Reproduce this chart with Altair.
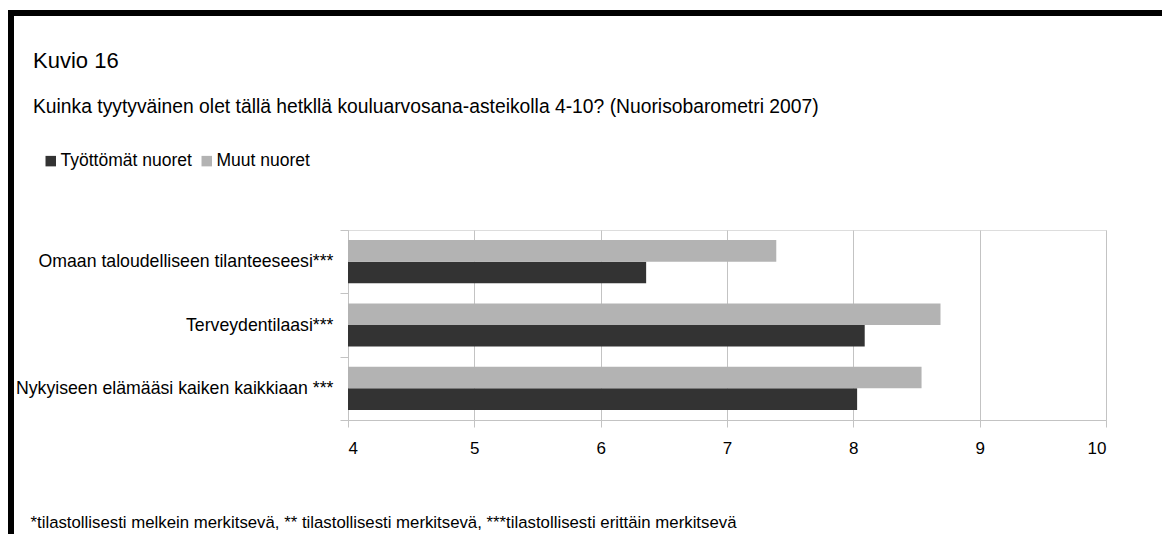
import altair as alt
import pandas as pd

categories = [
    "Omaan taloudelliseen tilanteeseesi***",
    "Terveydentilaasi***",
    "Nykyiseen elämääsi kaiken kaikkiaan ***",
]
series = ["Työttömät nuoret", "Muut nuoret"]
tyottomat = [6.36, 8.09, 8.03]
muut = [7.39, 8.69, 8.54]
x_ticks = [4, 5, 6, 7, 8, 9, 10]

title_text = "Kuvio 16"
subtitle_text = "Kuinka tyytyväinen olet tällä hetkllä kouluarvosana-asteikolla 4-10? (Nuorisobarometri 2007)"
footnote = ("*tilastollisesti melkein merkitsevä, ** tilastollisesti merkitsevä, "
            "***tilastollisesti erittäin merkitsevä")

rows = []
for c, a, b in zip(categories, tyottomat, muut):
    rows.append({"kysymys": c, "ryhma": series[0], "arvo": a})
    rows.append({"kysymys": c, "ryhma": series[1], "arvo": b})
df = pd.DataFrame(rows)

FONT = "Liberation Sans"
GRID = "#c3c3c3"

bars = alt.Chart(df).mark_bar().encode(
    y=alt.Y("kysymys:N", sort=categories,
            scale=alt.Scale(paddingInner=0, paddingOuter=0),
            axis=alt.Axis(title=None, tickBand="extent", tickSize=8, tickColor=GRID,
                          domainColor=GRID, labelFontSize=17.7, labelColor="#000000",
                          labelFont=FONT, labelPadding=7, labelLimit=400, grid=False)),
    yOffset=alt.YOffset("ryhma:N", sort=[series[1], series[0]],
                        scale=alt.Scale(paddingInner=0, paddingOuter=0.47)),
    x=alt.X("arvo:Q",
            scale=alt.Scale(domain=[4, 10], zero=False, nice=False),
            axis=alt.Axis(values=x_ticks, format="d", tickSize=7, tickColor=GRID,
                          domainColor=GRID, gridColor=GRID, grid=True,
                          labelFontSize=17, labelColor="#000000", labelFont=FONT,
                          labelPadding=13,
                          title=footnote, titleFont=FONT, titleFontSize=16.8,
                          titleFontWeight="normal", titleColor="#000000",
                          titleAnchor="start", titleAlign="left",
                          titleX=-318, titleY=107, titleBaseline="alphabetic")),
    x2=alt.datum(4),
    color=alt.Color("ryhma:N",
                    scale=alt.Scale(domain=series, range=["#333333", "#b3b3b3"]),
                    legend=alt.Legend(title=None, orient="none", direction="horizontal",
                                      legendX=-306, legendY=-78,
                                      symbolType="square", symbolSize=110,
                                      symbolStrokeWidth=0,
                                      labelFontSize=17.5, labelFont=FONT,
                                      labelColor="#000000", labelOffset=1,
                                      columnPadding=6, labelLimit=400)),
)

border = alt.Chart(pd.DataFrame({"k": [0]})).mark_rule(color="#000000", strokeWidth=6).encode(
    x=alt.value(-337), x2=alt.value(900), y=alt.value(-217)
)
border_left = alt.Chart(pd.DataFrame({"k": [0]})).mark_rule(color="#000000", strokeWidth=6).encode(
    x=alt.value(-337), y=alt.value(-220), y2=alt.value(400)
)

chart = alt.layer(bars, border, border_left).properties(
    width=758, height=190,
    padding={"left": 340, "top": 222, "right": 56, "bottom": 114},
    autosize=alt.AutoSizeParams(type="none"),
    title=alt.TitleParams(
        text=title_text, subtitle=subtitle_text,
        anchor="start", frame="group", dx=-315,
        font=FONT, fontSize=22, fontWeight="normal", color="#000000",
        subtitleFont=FONT, subtitleFontSize=19.3, subtitleColor="#000000",
        subtitlePadding=25, offset=-111.5,
    ),
).configure_view(stroke=GRID, strokeWidth=1).configure(background="#ffffff")

chart.save("out.html", embed_options={"renderer": "svg", "actions": False})
